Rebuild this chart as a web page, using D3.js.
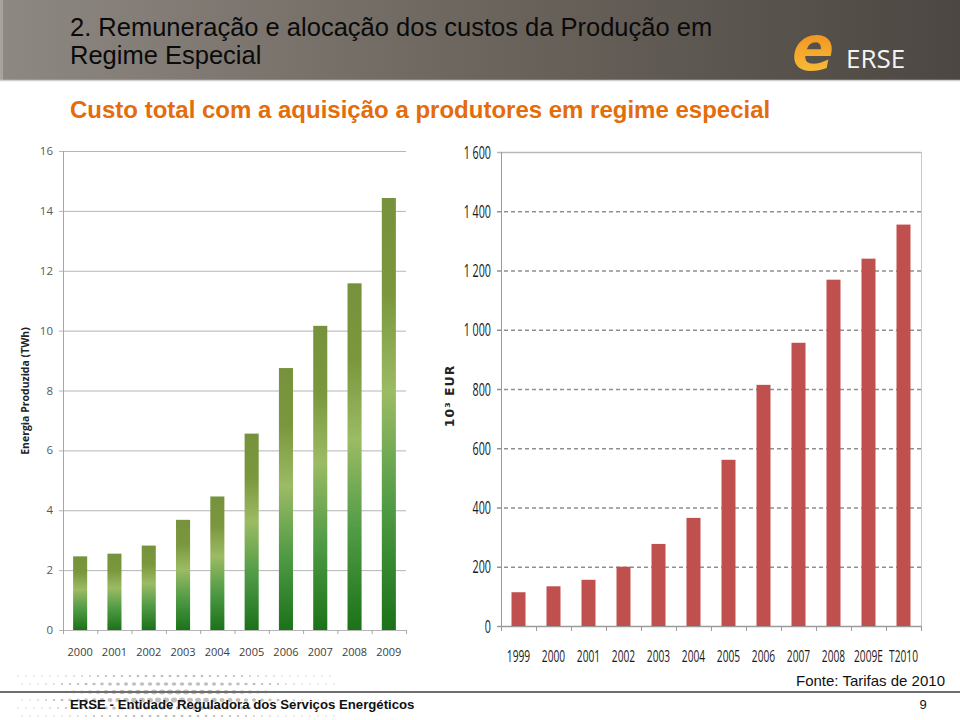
<!DOCTYPE html>
<html><head><meta charset="utf-8">
<script src="https://cdn.jsdelivr.net/npm/d3@7"></script>
<style>body{margin:0;background:#fff}svg{display:block}</style>
</head><body>
<script>
// ---- data ----
const energyYears = ["2000","2001","2002","2003","2004","2005","2006","2007","2008","2009"];
const energyTWh   = [2.46, 2.55, 2.82, 3.68, 4.46, 6.56, 8.75, 10.16, 11.58, 14.43];
const energyTicks = [0,2,4,6,8,10,12,14,16];

const costYears = ["1999","2000","2001","2002","2003","2004","2005","2006","2007","2008","2009E","T2010"];
const costEUR   = [114, 134, 156, 200, 277, 365, 561, 814, 956, 1169, 1240, 1355];
const costTicks = [0,200,400,600,800,1000,1200,1400,1600];

const W = 960, H = 720;
const svg = d3.select("body").append("svg").attr("width", W).attr("height", H);
const defs = svg.append("defs");

// header gradient
const hg = defs.append("linearGradient").attr("id","hdr").attr("x1","0").attr("x2","1").attr("y1","0").attr("y2","0");
hg.append("stop").attr("offset","0").attr("stop-color","#8e8882");
hg.append("stop").attr("offset","0.5").attr("stop-color","#6c655e");
hg.append("stop").attr("offset","1").attr("stop-color","#4c4742");
svg.append("rect").attr("x",0).attr("y",0).attr("width",W).attr("height",80).attr("fill","url(#hdr)");
svg.append("rect").attr("x",0).attr("y",0).attr("width",3).attr("height",80).attr("fill","#a8a39d");
svg.append("line").attr("x1",0).attr("x2",W).attr("y1",80.5).attr("y2",80.5).attr("stroke","#cfcfcf").attr("stroke-width",1.5);

const title = svg.append("text").attr("font-family","Liberation Sans, Arial, sans-serif").attr("font-size",25.5).attr("fill","#0a0a0a");
title.append("tspan").attr("x",70).attr("y",36).text("2. Remuneração e alocação dos custos da Produção em");
title.append("tspan").attr("x",70).attr("y",64).text("Regime Especial");

// logo
const lg = defs.append("linearGradient").attr("id","logo").attr("x1","0").attr("x2","0").attr("y1","0").attr("y2","1");
lg.append("stop").attr("offset","0").attr("stop-color","#ec7a20");
lg.append("stop").attr("offset","0.5").attr("stop-color","#f4a52a");
lg.append("stop").attr("offset","1").attr("stop-color","#f8c640");
svg.append("text").attr("x",792).attr("y",70).attr("font-family","DejaVu Sans, sans-serif").attr("font-weight","bold")
  .attr("font-style","italic").attr("font-size",62).attr("fill","url(#logo)").text("e");
svg.append("text").attr("x",846).attr("y",68).attr("font-family","Open Sans, sans-serif")
  .attr("font-size",26).attr("fill","#f4f4f4").text("ERSE");

// subtitle
svg.append("text").attr("x",70).attr("y",118).attr("font-family","Liberation Sans, Arial, sans-serif")
  .attr("font-weight","bold").attr("font-size",24).attr("fill","#e46c0a")
  .text("Custo total com a aquisição a produtores em regime especial");

// ---- left chart ----
const xL = d3.scaleBand().domain(energyYears).range([63,406]).paddingInner(0.59).paddingOuter(0.295);
const yL = d3.scaleLinear().domain([0,16]).range([630,151]);

const gg = defs.append("linearGradient").attr("id","green").attr("x1","0").attr("x2","0").attr("y1","0").attr("y2","1");
[[0,"#76923c"],[0.22,"#7a973d"],[0.45,"#9bbb64"],[0.72,"#4f9a45"],[1,"#1b7219"]].forEach(s=>
  gg.append("stop").attr("offset",s[0]).attr("stop-color",s[1]));

const left = svg.append("g");
left.selectAll("line.grid").data(energyTicks).join("line").attr("class","grid")
  .attr("x1",59).attr("x2",406).attr("y1",d=>yL(d)+0.5).attr("y2",d=>yL(d)+0.5)
  .attr("stroke","#b5b5b5").attr("stroke-width",1);
left.append("line").attr("x1",63.5).attr("x2",63.5).attr("y1",151).attr("y2",630).attr("stroke","#a6a6a6");
left.selectAll("text.yt").data(energyTicks).join("text").attr("class","yt")
  .attr("x",53).attr("y",d=>yL(d)+4).attr("text-anchor","end")
  .attr("font-family","Open Sans, sans-serif").attr("font-size",11.5).attr("fill","#595959").text(d=>d);
left.selectAll("rect").data(energyTWh).join("rect")
  .attr("x",(d,i)=>xL(energyYears[i])).attr("width",xL.bandwidth())
  .attr("y",d=>yL(d)).attr("height",d=>yL(0)-yL(d)).attr("fill","url(#green)");
const stepL = xL.step();
left.selectAll("line.xt").data(d3.range(energyYears.length+1)).join("line").attr("class","xt")
  .attr("x1",d=>63.5+d*stepL).attr("x2",d=>63.5+d*stepL).attr("y1",630).attr("y2",634).attr("stroke","#a6a6a6");
left.selectAll("text.xl").data(energyYears).join("text").attr("class","xl")
  .attr("x",d=>xL(d)+xL.bandwidth()/2).attr("y",656).attr("text-anchor","middle")
  .attr("font-family","Open Sans, sans-serif").attr("font-size",11).attr("fill","#404040").text(d=>d);
svg.append("text").attr("transform","translate(29,391) rotate(-90)").attr("text-anchor","middle")
  .attr("font-family","Open Sans, sans-serif").attr("font-weight","bold").attr("font-size",10.5).attr("fill","#222")
  .text("Energia Produzida (TWh)");

// ---- right chart ----
const xR = d3.scaleBand().domain(costYears).range([501,921]).paddingInner(0.6).paddingOuter(0.3);
const yR = d3.scaleLinear().domain([0,1600]).range([626,152]);
const right = svg.append("g");
right.selectAll("line.grid").data(costTicks.filter(d=>d>0)).join("line").attr("class","grid")
  .attr("x1",497).attr("x2",921).attr("y1",d=>yR(d)+0.5).attr("y2",d=>yR(d)+0.5)
  .attr("stroke",d=>d===1600?"#b8b8b8":"#8f8f8f").attr("stroke-width",1.4)
  .attr("stroke-dasharray",d=>d===1600?null:"4,3");
right.append("line").attr("x1",921.5).attr("x2",921.5).attr("y1",152).attr("y2",626).attr("stroke","#c8c8c8");
right.append("line").attr("x1",501.5).attr("x2",501.5).attr("y1",152).attr("y2",630).attr("stroke","#9a9a9a");
right.append("line").attr("x1",497).attr("x2",922).attr("y1",626.5).attr("y2",626.5).attr("stroke","#9a9a9a").attr("stroke-width",1.3);
right.selectAll("rect").data(costEUR).join("rect")
  .attr("x",(d,i)=>xR(costYears[i])).attr("width",xR.bandwidth())
  .attr("y",d=>yR(d)).attr("height",d=>yR(0)-yR(d)).attr("fill","#c0504d");
const stepR = xR.step();
right.selectAll("line.xt").data(d3.range(costYears.length+1)).join("line").attr("class","xt")
  .attr("x1",d=>501.5+d*stepR).attr("x2",d=>501.5+d*stepR).attr("y1",626).attr("y2",631).attr("stroke","#9a9a9a");
const fmt = d => d>=1000 ? String(d).replace(/^(\d)(\d{3})$/,"$1 $2") : String(d);
right.selectAll("text.yt").data(costTicks).join("text").attr("class","yt")
  .attr("transform",d=>`translate(491,${yR(d)+6.5}) scale(0.58,1)`).attr("text-anchor","end")
  .attr("font-family","Open Sans, sans-serif").attr("font-size",18.5).attr("fill","#1a1a1a").text(fmt);
right.selectAll("text.xl").data(costYears).join("text").attr("class","xl")
  .attr("transform",d=>`translate(${xR(d)+xR.bandwidth()/2},662) scale(0.6,1)`).attr("text-anchor","middle")
  .attr("font-family","Open Sans, sans-serif").attr("font-size",17).attr("fill","#1a1a1a").text(d=>d);
svg.append("text").attr("transform","translate(454,396) rotate(-90)").attr("text-anchor","middle")
  .attr("font-family","DejaVu Sans, sans-serif").attr("font-weight","bold").attr("font-size",12.5)
  .attr("letter-spacing",1).attr("fill","#222").text("10³ EUR");

// ---- footer ----
const dots = svg.append("g").attr("fill","#a8a4a0");
for (let r=0;r<6;r++){
  for (let c=0;c<40;c++){
    const x = 18 + c*8 + (r%2)*4;
    const t = Math.sin(Math.PI*(x-10)/320);
    const rr = Math.max(0.7, 3.4*t*(1-Math.abs(r-2.5)/4.5));
    dots.append("ellipse").attr("cx",x).attr("cy",676+r*8).attr("rx",rr).attr("ry",rr*0.8).attr("opacity",0.7);
  }
}
svg.append("line").attr("x1",0).attr("x2",W).attr("y1",692).attr("y2",692).attr("stroke","#6e6e6e").attr("stroke-width",2);
svg.append("text").attr("x",70).attr("y",709).attr("font-family","Liberation Sans, Arial, sans-serif")
  .attr("font-weight","bold").attr("font-size",13.2).attr("fill","#111")
  .text("ERSE - Entidade Reguladora dos Serviços Energéticos");
svg.append("text").attr("x",945).attr("y",686).attr("text-anchor","end").attr("font-family","Liberation Sans, Arial, sans-serif")
  .attr("font-size",15).attr("fill","#111").text("Fonte: Tarifas de 2010");
svg.append("text").attr("x",923).attr("y",709).attr("text-anchor","middle").attr("font-family","Liberation Sans, Arial, sans-serif")
  .attr("font-size",13).attr("fill","#111").text("9");
</script>
</body></html>
